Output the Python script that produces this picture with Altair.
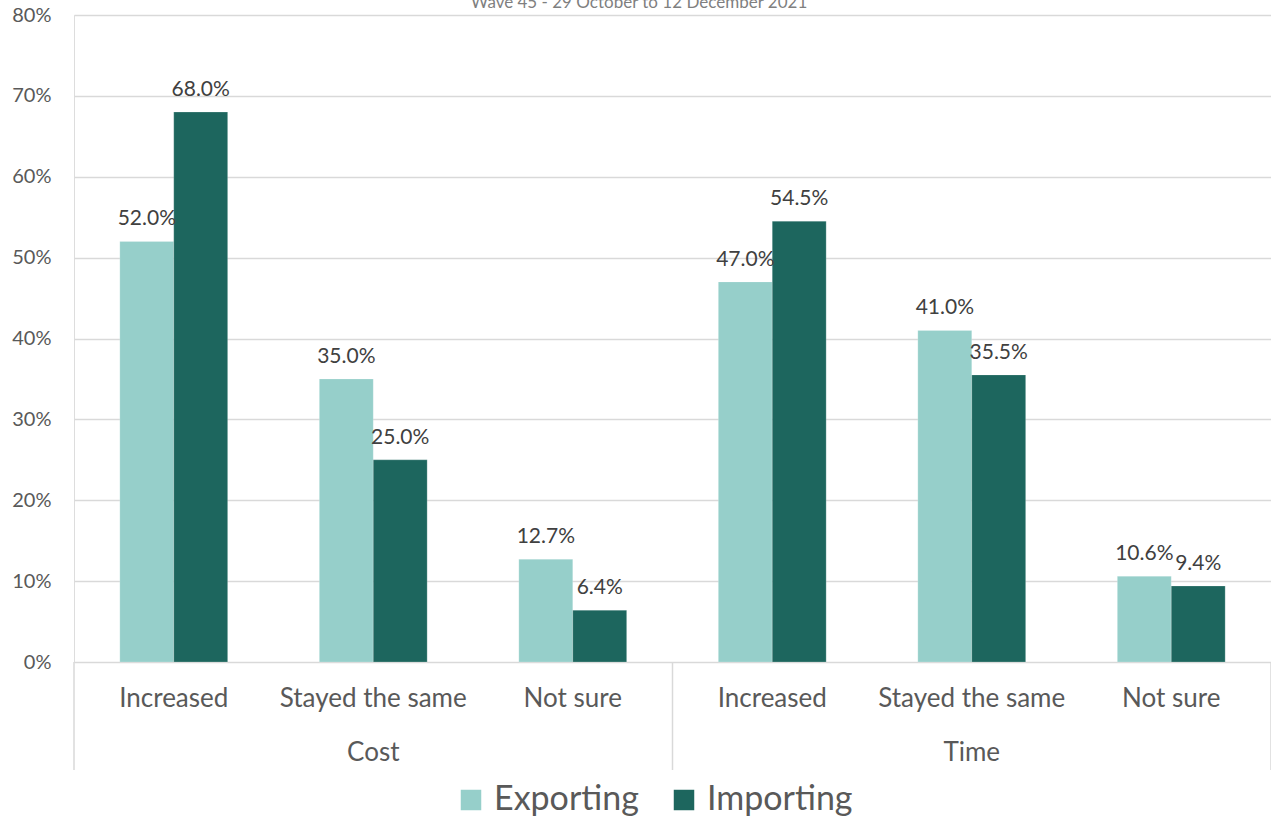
import altair as alt
import pandas as pd

groups = ["Cost", "Cost", "Cost", "Time", "Time", "Time"]
categories = ["Increased", "Stayed the same", "Not sure", "Increased", "Stayed the same", "Not sure"]
exporting = [0.520, 0.350, 0.127, 0.470, 0.410, 0.106]
importing = [0.680, 0.250, 0.064, 0.545, 0.355, 0.094]
series = ["Exporting", "Importing"]
colors = ["#96CFCA", "#1D665E"]
title_text = "Wave 45 - 29 October to 12 December 2021"

keys = [f"{g}|{c}" for g, c in zip(groups, categories)]
rows = []
for k, g, c, e, i in zip(keys, groups, categories, exporting, importing):
    rows.append({"key": k, "group": g, "cat": c, "series": "Exporting", "value": e})
    rows.append({"key": k, "group": g, "cat": c, "series": "Importing", "value": i})
df = pd.DataFrame(rows)

FONT = "Lato"
W, H = 1197, 647

xscale = alt.Scale(domain=keys, paddingInner=0, paddingOuter=0)
xoff_scale = alt.Scale(domain=series, paddingInner=0, paddingOuter=0.85)
yscale = alt.Scale(domain=[0, 0.8])

base = alt.Chart(df)

bars = base.mark_bar(stroke="white", strokeWidth=0.5, strokeOpacity=0.4).encode(
    x=alt.X("key:N", scale=xscale, sort=keys,
            axis=alt.Axis(title=None, labelExpr="split(datum.label, '|')[1]",
                          labelAngle=0, labelFontSize=26, labelColor="#595959",
                          labelFont=FONT, labelPadding=23, labelLimit=400,
                          labelOverlap=False, domain=False, ticks=False,
                          grid=False)),
    xOffset=alt.XOffset("series:N", scale=xoff_scale, sort=series),
    y=alt.Y("value:Q", scale=yscale,
            axis=alt.Axis(title=None, format=".0%", values=[0, 0.1, 0.2, 0.3, 0.4, 0.5, 0.6, 0.7, 0.8],
                          labelFontSize=20, labelColor="#595959", labelFont=FONT,
                          labelPadding=23, domain=False, ticks=False,
                          grid=True, gridColor="#D9D9D9", gridWidth=1.5)),
    color=alt.Color("series:N", scale=alt.Scale(domain=series, range=colors),
                    legend=alt.Legend(title=None, orient="none", legendX=380, legendY=768,
                                      direction="horizontal", symbolType="square",
                                      symbolSize=420, symbolStrokeWidth=0,
                                      labelFontSize=34, labelFont=FONT, labelColor="#595959",
                                      labelOffset=6, columnPadding=28, symbolOpacity=1,
                                      labelLimit=400)),
)

labels = base.mark_text(baseline="alphabetic", dy=-16, fontSize=21, font=FONT,
                        color="#404040").encode(
    x=alt.X("key:N", scale=xscale, sort=keys),
    xOffset=alt.XOffset("series:N", scale=xoff_scale, sort=series),
    y=alt.Y("value:Q", scale=yscale),
    text=alt.Text("value:Q", format=".1%"),
)

grp_df = pd.DataFrame({"key": [keys[1], keys[4]], "group": ["Cost", "Time"]})
group_labels = alt.Chart(grp_df).mark_text(fontSize=26, font=FONT, color="#595959",
                                           baseline="middle").encode(
    x=alt.X("key:N", scale=xscale, sort=keys),
    y=alt.value(H + 91),
    text="group:N",
)

sep_df = pd.DataFrame({"key": [keys[0], keys[3]]})
separators = alt.Chart(sep_df).mark_rule(color="#D9D9D9", strokeWidth=1.5).encode(
    x=alt.X("key:N", scale=xscale, sort=keys, bandPosition=0),
    y=alt.value(H),
    y2=alt.value(H + 108),
)
sep_end = alt.Chart(pd.DataFrame({"key": [keys[5]]})).mark_rule(color="#D9D9D9", strokeWidth=1.5).encode(
    x=alt.X("key:N", scale=xscale, sort=keys, bandPosition=1),
    y=alt.value(H),
    y2=alt.value(H + 108),
)

title = alt.Chart(pd.DataFrame({"t": [title_text]})).mark_text(
    fontSize=17, font=FONT, color="#7F7F7F", baseline="alphabetic").encode(
    x=alt.value(565), y=alt.value(-7), text="t:N")

chart = alt.layer(bars, labels, group_labels, separators, sep_end, title).properties(
    width=W, height=H,
    autosize=alt.AutoSizeParams(type="none"),
    padding={"left": 74, "top": 15, "right": 0, "bottom": 159},
).configure_view(stroke=None).configure(background="white")

chart.save("out.html", embed_options={"renderer": "svg", "actions": False})
